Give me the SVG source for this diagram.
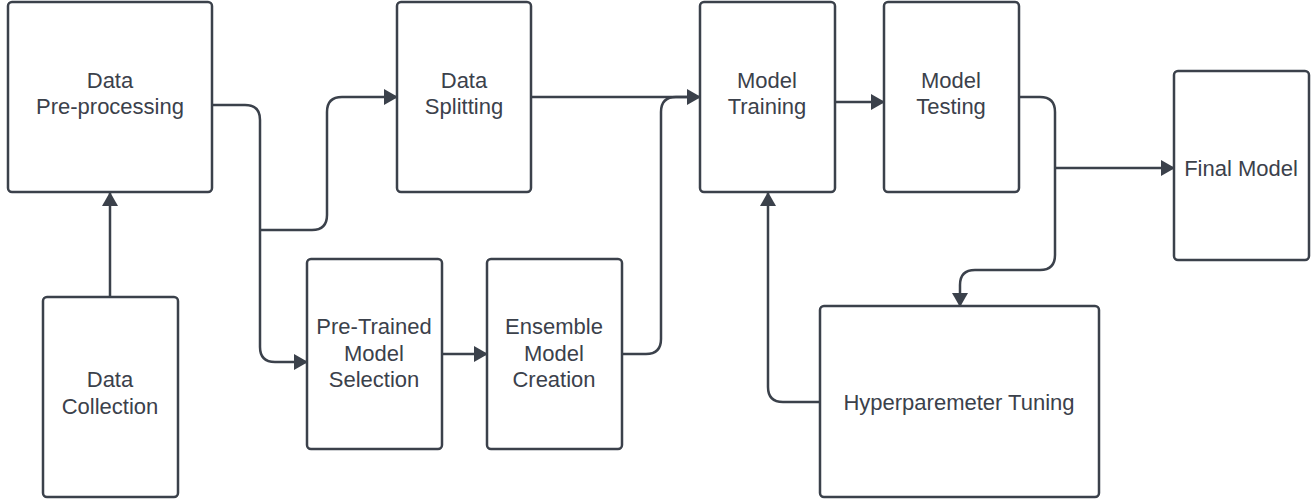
<svg xmlns="http://www.w3.org/2000/svg" width="1315" height="503" viewBox="0 0 1315 503">
<style>
.box{fill:#ffffff;stroke:#3b414b;stroke-width:2.5}
.sh{fill:none;stroke:#3b414b;stroke-width:1.5;opacity:0.6}
.lbl{font-family:"Liberation Sans",Arial,sans-serif;font-size:22px;fill:#3b414b;text-anchor:middle}
.c{fill:none;stroke:#3b414b;stroke-width:2.5}
</style>
<defs>
<marker id="ah" markerUnits="userSpaceOnUse" markerWidth="14" markerHeight="16" refX="13" refY="8" orient="auto">
<path d="M0,0 L14,8 L0,16 z" fill="#3b414b"/>
</marker>
</defs>
<rect width="1315" height="503" fill="#ffffff"/>
<g id="connectors">
<path class="c" d="M110,297 V193" marker-end="url(#ah)"/>
<path class="c" d="M212,105 H245 Q260,105 260,120 V347 Q260,362 275,362 H307" marker-end="url(#ah)"/>
<path class="c" d="M260,230 H312 Q327,230 327,215 V112 Q327,97 342,97 H397" marker-end="url(#ah)"/>
<path class="c" d="M531,97 H700" marker-end="url(#ah)"/>
<path class="c" d="M621,354 H646 Q661,354 661,339 V112 Q661,97 676,97 H690"/>
<path class="c" d="M441,354 H487" marker-end="url(#ah)"/>
<path class="c" d="M835,102 H884" marker-end="url(#ah)"/>
<path class="c" d="M1019,97 H1040 Q1055,97 1055,112 V255 Q1055,270 1040,270 H975 Q960,270 960,285 V306" marker-end="url(#ah)"/>
<path class="c" d="M1055,168 H1174" marker-end="url(#ah)"/>
<path class="c" d="M820,402 H783 Q768,402 768,387 V193" marker-end="url(#ah)"/>
</g>
<g id="data-preprocessing">
<rect class="box" x="8" y="2" width="204" height="190" rx="4"/>
<text class="lbl" x="110" y="88">Data</text>
<text class="lbl" x="110" y="114">Pre-processing</text>
</g>
<g id="data-collection">
<rect class="box" x="43" y="297" width="135" height="200" rx="4"/>
<text class="lbl" x="110" y="387">Data</text>
<text class="lbl" x="110" y="414">Collection</text>
</g>
<g id="data-splitting">
<rect class="box" x="397" y="2" width="134" height="190" rx="4"/>
<text class="lbl" x="464" y="88">Data</text>
<text class="lbl" x="464" y="114">Splitting</text>
</g>
<g id="pretrained-model-selection">
<rect class="box" x="307" y="259" width="135" height="190" rx="4"/>
<text class="lbl" x="374" y="334">Pre-Trained</text>
<text class="lbl" x="374" y="361">Model</text>
<text class="lbl" x="374" y="387">Selection</text>
</g>
<g id="ensemble-model-creation">
<rect class="box" x="487" y="259" width="135" height="190" rx="4"/>
<text class="lbl" x="554" y="334">Ensemble</text>
<text class="lbl" x="554" y="361">Model</text>
<text class="lbl" x="554" y="387">Creation</text>
</g>
<g id="model-training">
<rect class="box" x="700" y="2" width="135" height="190" rx="4"/>
<text class="lbl" x="767" y="88">Model</text>
<text class="lbl" x="767" y="114">Training</text>
</g>
<g id="model-testing">
<rect class="box" x="884" y="2" width="135" height="190" rx="4"/>
<text class="lbl" x="951" y="88">Model</text>
<text class="lbl" x="951" y="114">Testing</text>
</g>
<g id="final-model">
<rect class="box" x="1174" y="71" width="135" height="189" rx="4"/>
<text class="lbl" x="1241" y="176">Final Model</text>
</g>
<g id="hyperparameter-tuning">
<rect class="box" x="820" y="306" width="279" height="191" rx="4"/>
<text class="lbl" x="959" y="410">Hyperparemeter Tuning</text>
</g>
</svg>
